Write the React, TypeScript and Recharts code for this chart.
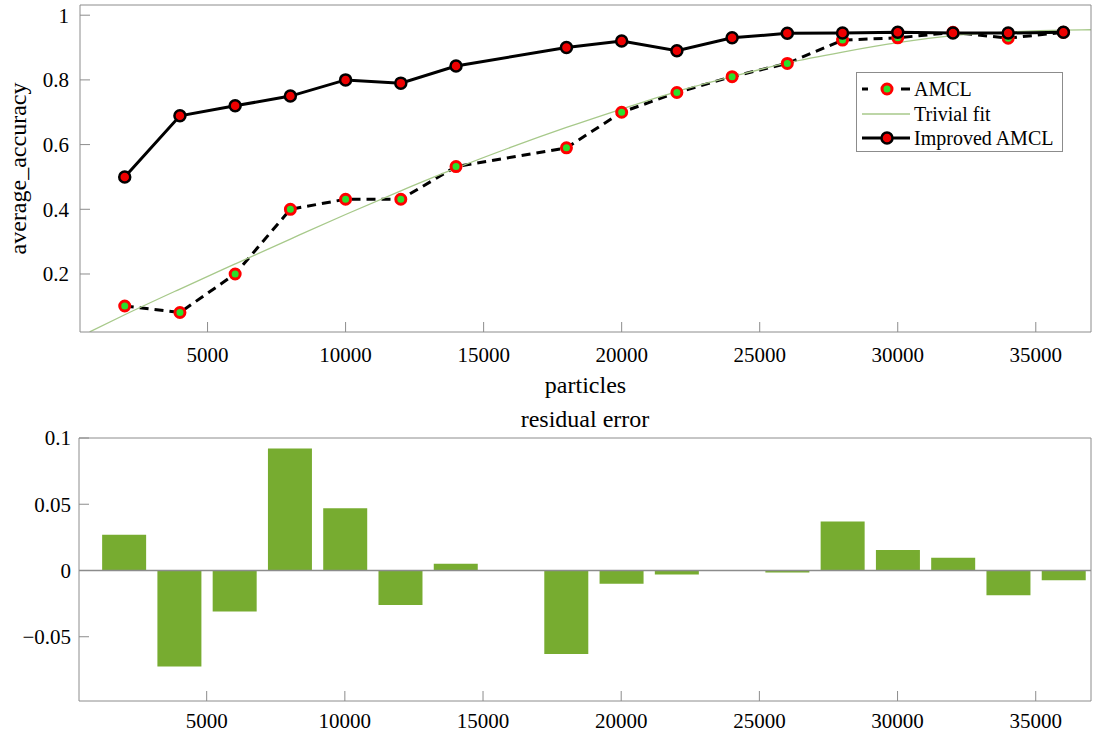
import {
  Bar,
  BarChart,
  Label,
  Legend,
  Line,
  LineChart,
  ReferenceLine,
  XAxis,
  YAxis,
} from "recharts";

const FONT = '"Liberation Serif", "Times New Roman", serif';
const GREY = "#8c8c8c";

// particle counts that were measured (no run at 16000)
const PARTICLES = [
  2000, 4000, 6000, 8000, 10000, 12000, 14000, 18000, 20000, 22000, 24000,
  26000, 28000, 30000, 32000, 34000, 36000,
];
const AMCL = [
  0.101, 0.081, 0.2, 0.4, 0.431, 0.431, 0.532, 0.59, 0.7, 0.761, 0.81, 0.851,
  0.923, 0.93, 0.947, 0.929, 0.947,
];
const IMPROVED = [
  0.5, 0.689, 0.72, 0.75, 0.8, 0.79, 0.843, 0.9, 0.92, 0.89, 0.93, 0.944,
  0.945, 0.947, 0.945, 0.945, 0.947,
];
const RESIDUAL = [
  0.027, -0.0725, -0.031, 0.092, 0.047, -0.026, 0.005, -0.063, -0.01, -0.003,
  0.0, -0.0015, 0.037, 0.0154, 0.0096, -0.0187, -0.0073,
];

// trivial fit curve
const FIT_X = [
  730, 2000, 4000, 6000, 8000, 10000, 12000, 14000, 16000, 18000, 20000, 22000,
  24000, 26000, 28000, 30000, 32000, 34000, 36000, 37000,
];
const FIT_Y = [
  0.021, 0.074, 0.1535, 0.231, 0.308, 0.384, 0.457, 0.527, 0.592, 0.653, 0.71,
  0.764, 0.81, 0.8525, 0.886, 0.915, 0.937, 0.948, 0.954, 0.955,
];

const X_DOMAIN = [380, 37000];
const X_TICKS = [5000, 10000, 15000, 20000, 25000, 30000, 35000];
const ACC_DOMAIN = [0.0207, 1.0315];
const ACC_TICKS = [0.2, 0.4, 0.6, 0.8, 1];
const RES_DOMAIN = [-0.0985, 0.1];
const RES_TICKS = [-0.05, 0, 0.05, 0.1];

const amclData = PARTICLES.map((x, i) => ({ x, y: AMCL[i] }));
const improvedData = PARTICLES.map((x, i) => ({ x, y: IMPROVED[i] }));
const fitData = FIT_X.map((x, i) => ({ x, y: FIT_Y[i] }));
const residualData = PARTICLES.map((x, i) => ({ x, r: RESIDUAL[i] }));

const tickStyle = { fill: "#000", fontSize: 21, fontFamily: FONT };
const fmtRes = (v: number) => String(v).replace("-", "\u2212");

function LegendBox() {
  const row = { display: "flex", alignItems: "center", height: 24.5 };
  return (
    <div
      style={{
        width: 207,
        height: 80,
        boxSizing: "border-box",
        border: `1px solid ${GREY}`,
        background: "#fff",
        padding: "4px 0 0 1px",
        fontFamily: FONT,
        fontSize: 20,
        color: "#000",
        lineHeight: 1,
      }}
    >
      <div style={row}>
        <svg width={56} height={18}>
          <line x1={4} x2={10} y1={9} y2={9} stroke="#000" strokeWidth={3} />
          <line x1={43} x2={52} y1={9} y2={9} stroke="#000" strokeWidth={3} />
          <circle cx={29} cy={9} r={5} fill="#2be02b" stroke="#ff0000" strokeWidth={3} />
        </svg>
        <span>AMCL</span>
      </div>
      <div style={row}>
        <svg width={56} height={18}>
          <line x1={4} x2={52} y1={9} y2={9} stroke="#a7c98a" strokeWidth={1.3} />
        </svg>
        <span>Trivial fit</span>
      </div>
      <div style={row}>
        <svg width={56} height={18}>
          <line x1={4} x2={52} y1={9} y2={9} stroke="#000" strokeWidth={3} />
          <circle cx={29} cy={9} r={5.5} fill="#ee0000" stroke="#000" strokeWidth={2.5} />
        </svg>
        <span>Improved AMCL</span>
      </div>
    </div>
  );
}

export default function App() {
  return (
    <div
      style={{
        position: "absolute",
        left: 0,
        top: 0,
        width: 1095,
        height: 734,
        background: "#fff",
        fontFamily: FONT,
      }}
    >
      <LineChart
        width={1095}
        height={400}
        margin={{ top: 4, right: 3, bottom: 0, left: 0 }}
        style={{ fontFamily: FONT }}
      >
        <XAxis
          xAxisId="b"
          dataKey="x"
          type="number"
          domain={X_DOMAIN}
          ticks={X_TICKS}
          allowDataOverflow
          height={68}
          stroke={GREY}
          tickSize={-10}
          tickMargin={25}
          tick={tickStyle}
        >
          <Label value="particles" position="insideBottom" offset={7} fill="#000" fontSize={24} />
        </XAxis>
        <XAxis
          xAxisId="t"
          orientation="top"
          dataKey="x"
          type="number"
          domain={X_DOMAIN}
          ticks={X_TICKS}
          allowDataOverflow
          height={1}
          stroke={GREY}
          tickSize={-10}
          tick={false}
        />
        <YAxis
          yAxisId="l"
          type="number"
          domain={ACC_DOMAIN}
          ticks={ACC_TICKS}
          allowDataOverflow
          width={80}
          stroke={GREY}
          tickSize={-10}
          tickMargin={21}
          tick={tickStyle}
        >
          <Label
            value="average_accuracy"
            angle={-90}
            position="insideLeft"
            offset={17}
            fill="#000"
            fontSize={24}
            style={{ textAnchor: "middle" }}
          />
        </YAxis>
        <YAxis
          yAxisId="r"
          orientation="right"
          type="number"
          domain={ACC_DOMAIN}
          ticks={ACC_TICKS}
          allowDataOverflow
          width={1}
          stroke={GREY}
          tickSize={-10}
          tick={false}
        />
        <Legend
          layout="horizontal"
          align="center"
          verticalAlign="middle"
          wrapperStyle={{ left: 856, top: 72, width: 207, height: 80 }}
          content={() => <LegendBox />}
        />
        <Line
          xAxisId="b"
          yAxisId="l"
          data={amclData}
          dataKey="y"
          name="AMCL"
          type="linear"
          stroke="#000"
          strokeWidth={3}
          strokeDasharray="9 6"
          dot={{ r: 5, fill: "#2be02b", stroke: "#ff0000", strokeWidth: 3, strokeDasharray: "none" }}
          activeDot={false}
          isAnimationActive={false}
        />
        <Line
          xAxisId="b"
          yAxisId="l"
          data={fitData}
          dataKey="y"
          name="Trivial fit"
          type="monotone"
          stroke="#a7c98a"
          strokeWidth={1.3}
          dot={false}
          activeDot={false}
          isAnimationActive={false}
        />
        <Line
          xAxisId="b"
          yAxisId="l"
          data={improvedData}
          dataKey="y"
          name="Improved AMCL"
          type="linear"
          stroke="#000"
          strokeWidth={3}
          dot={{ r: 5.5, fill: "#ee0000", stroke: "#000", strokeWidth: 2.5 }}
          activeDot={false}
          isAnimationActive={false}
        />
      </LineChart>

      <BarChart
        width={1095}
        height={334}
        data={residualData}
        margin={{ top: 37, right: 3, bottom: 0, left: 0 }}
        style={{ fontFamily: FONT }}
      >
        <XAxis
          xAxisId="b"
          dataKey="x"
          type="number"
          domain={X_DOMAIN}
          ticks={X_TICKS}
          allowDataOverflow
          height={33}
          stroke={GREY}
          tickSize={-10}
          tickMargin={22}
          tick={tickStyle}
        />
        <XAxis
          xAxisId="t"
          orientation="top"
          dataKey="x"
          type="number"
          domain={X_DOMAIN}
          ticks={X_TICKS}
          allowDataOverflow
          height={1}
          stroke={GREY}
          tickSize={-10}
          tick={false}
        >
          <Label value="residual error" position="top" offset={10} fill="#000" fontSize={24} />
        </XAxis>
        <YAxis
          yAxisId="l"
          type="number"
          domain={RES_DOMAIN}
          ticks={RES_TICKS}
          allowDataOverflow
          width={79}
          stroke={GREY}
          tickSize={-10}
          tickMargin={18}
          tick={tickStyle}
          tickFormatter={fmtRes}
        />
        <YAxis
          yAxisId="r"
          orientation="right"
          type="number"
          domain={RES_DOMAIN}
          ticks={RES_TICKS}
          allowDataOverflow
          width={1}
          stroke={GREY}
          tickSize={-10}
          tick={false}
        />
        <Bar
          xAxisId="b"
          yAxisId="l"
          dataKey="r"
          fill="#77ac30"
          barSize={44}
          isAnimationActive={false}
        />
        <ReferenceLine xAxisId="b" yAxisId="l" y={0} stroke={GREY} strokeWidth={1.5} />
      </BarChart>
    </div>
  );
}
